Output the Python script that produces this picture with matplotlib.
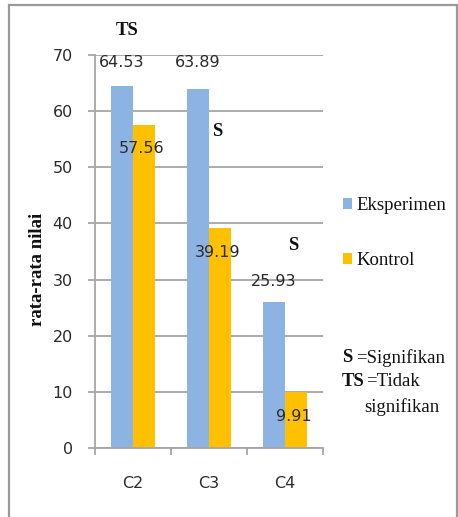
import matplotlib
matplotlib.use("Agg")
import matplotlib.pyplot as plt
from matplotlib.patches import Rectangle
import numpy as np

# Data
categories = ["C2", "C3", "C4"]
eksperimen = [64.53, 63.89, 25.93]
kontrol = [57.56, 39.19, 9.91]
significance = ["TS", "S", "S"]
y_ticks = [0, 10, 20, 30, 40, 50, 60, 70]

W, H = 458, 517
DPI = 100
fig = plt.figure(figsize=(W / DPI, H / DPI), dpi=DPI)
fig.patch.set_facecolor("white")


def px(x, y):
    """Pixel position (from top-left) to figure fraction."""
    return x / W, 1 - y / H


# Outer chart frame
fig.patches.append(Rectangle(px(9, 540), (457 - 9) / W, (540 - 5) / H,
                             transform=fig.transFigure, fill=False,
                             edgecolor="#9a9a9a", linewidth=1.6, zorder=0))

ax_l, ax_b = px(95, 448)
ax = fig.add_axes([ax_l, ax_b, (323 - 95) / W, (448 - 55) / H])

blue = "#8db3e2"
orange = "#ffc000"
grid_c = "#a6a6a6"
txt_c = "#2b2b2b"
dark = "#111111"
serif = "Liberation Serif"

x = np.arange(len(categories))
bw = 0.29
b1 = ax.bar(x - bw / 2, eksperimen, bw, color=blue, label="Eksperimen", zorder=2)
b2 = ax.bar(x + bw / 2, kontrol, bw, color=orange, label="Kontrol", zorder=2)

ax.set_xlim(-0.5, len(categories) - 0.5)
ax.set_ylim(0, 70)
ax.set_yticks(y_ticks)
ax.yaxis.grid(True, color=grid_c, linewidth=1.3, zorder=0)
ax.set_axisbelow(True)

for s in ["top", "right"]:
    ax.spines[s].set_visible(False)
for s in ["left", "bottom"]:
    ax.spines[s].set_color(grid_c)
    ax.spines[s].set_linewidth(1.3)

ax.tick_params(axis="y", length=5, width=1.3, color=grid_c, pad=11,
               labelsize=11.5, labelcolor=txt_c)
ax.set_xticks(x)
ax.set_xticklabels(categories, fontsize=11.5, color=txt_c)
ax.tick_params(axis="x", which="major", length=0, pad=20)
ax.set_xticks(np.arange(len(categories) + 1) - 0.5, minor=True)
ax.tick_params(axis="x", which="minor", length=5, width=1.3, color=grid_c)

# Value labels
for i, v in enumerate(eksperimen):
    ly = 68.6 if v > 50 else v + 3.8
    ax.text(x[i] - bw / 2, ly, f"{v:.2f}", ha="center", va="center",
            fontsize=11.5, color=txt_c, zorder=3)
for i, v in enumerate(kontrol):
    ax.text(x[i] + bw / 2 - 0.03, v - 4.3, f"{v:.2f}", ha="center", va="center",
            fontsize=11.5, color=txt_c, zorder=3)

# Significance marks
sig_pos = [(-0.08, 74.3), (1.11, 56.3), (2.11, 36.0)]
for (sx, sy), s in zip(sig_pos, significance):
    ax.text(sx, sy, s, ha="center", va="center", fontsize=13.5,
            family=serif, fontweight="bold", color=dark,
            clip_on=False, zorder=3)

# Y axis title
fig.text(*px(38, 269), "rata-rata nilai", family=serif, fontweight="bold",
         fontsize=13.5, color=dark, rotation=90, ha="center", va="center")

# Legend
leg = fig.legend(handles=[b1, b2], labels=["Eksperimen", "Kontrol"],
                 loc="upper left", bbox_to_anchor=px(343, 197),
                 frameon=False, fontsize=13.5,
                 handlelength=0.5, handleheight=0.5, handletextpad=0.2,
                 labelspacing=2.05, borderpad=0, borderaxespad=0)
for t in leg.get_texts():
    t.set_family(serif)
    t.set_color(dark)

# Key for significance marks
fig.text(*px(342, 358), "S", family=serif, fontweight="bold", fontsize=13.5,
         va="center", ha="left", color=dark)
fig.text(*px(356, 358), "=Signifikan", family=serif, fontsize=13.5,
         va="center", ha="left", color=dark)
fig.text(*px(342, 382), "TS", family=serif, fontweight="bold", fontsize=13.5,
         va="center", ha="left", color=dark)
fig.text(*px(366, 382), "=Tidak", family=serif, fontsize=13.5,
         va="center", ha="left", color=dark)
fig.text(*px(364, 407), "signifikan", family=serif, fontsize=13.5,
         va="center", ha="left", color=dark)

fig.savefig("out.png", dpi=DPI, facecolor="white")
